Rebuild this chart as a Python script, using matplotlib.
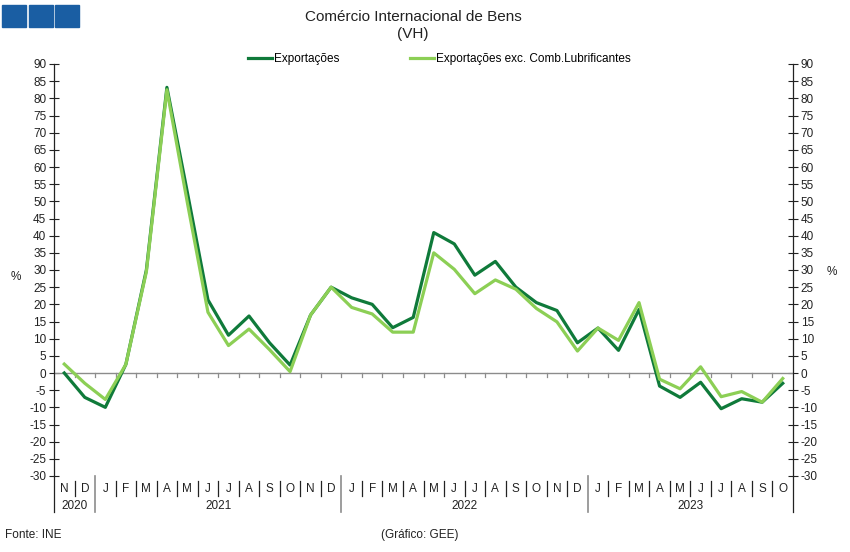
import matplotlib.pyplot as plt
from matplotlib.patches import Rectangle

plt.rcParams['font.family'] = ['Liberation Sans', 'DejaVu Sans']
plt.rcParams['axes.unicode_minus'] = False

# months Nov 2020 .. Oct 2023
months = ['N', 'D',
          'J', 'F', 'M', 'A', 'M', 'J', 'J', 'A', 'S', 'O', 'N', 'D',
          'J', 'F', 'M', 'A', 'M', 'J', 'J', 'A', 'S', 'O', 'N', 'D',
          'J', 'F', 'M', 'A', 'M', 'J', 'J', 'A', 'S', 'O']
years = ['2020', '2021', '2022', '2023']
year_counts = [2, 12, 12, 10]

exportacoes = [0.0, -7.1, -10.0, 2.5, 30.0, 83.2, 52.5, 21.3, 11.0, 16.6, 8.8, 2.3,
               16.9, 25.0, 21.9, 20.0, 13.2, 16.2, 40.9, 37.6, 28.5, 32.5, 25.0, 20.5,
               18.2, 8.8, 13.1, 6.6, 18.5, -3.8, -7.1, -2.7, -10.4, -7.5, -8.5, -3.0]
exp_sem_comb = [2.6, -3.0, -7.7, 2.5, 29.5, 82.5, 49.5, 17.7, 8.0, 12.8, 6.8, 0.4,
                16.9, 25.0, 19.1, 17.2, 11.9, 11.9, 35.0, 30.2, 23.1, 27.1, 24.4, 18.8,
                14.9, 6.4, 13.1, 9.5, 20.5, -1.8, -4.6, 1.8, -6.9, -5.4, -8.5, -1.6]

dark = '#0f7a3a'
light = '#8ccf55'
grey = '#8c8c8c'

W, H = 850, 552
fig = plt.figure(figsize=(8.5, 5.52), dpi=100)
ax = fig.add_axes([54 / W, 1 - 476 / H, (793 - 54) / W, (476 - 64) / H])

x = list(range(len(months)))
ax.plot(x, exportacoes, color=dark, lw=2.3, label='Exportações', zorder=3)
ax.plot(x, exp_sem_comb, color=light, lw=2.3,
        label='Exportações exc. Comb.Lubrificantes', zorder=3)

ax.set_xlim(-0.5, len(months) - 0.5)
ax.set_ylim(-30, 90)
ax.set_yticks(range(-30, 91, 5))
ax.tick_params(axis='y', direction='inout', length=7, width=0.8, labelsize=8.5,
               pad=2, right=True, labelright=True, colors='#222222')
ax.set_xticks([])
for s in ['top', 'bottom']:
    ax.spines[s].set_visible(False)
for s in ['left', 'right']:
    ax.spines[s].set_color('#222222')
    ax.spines[s].set_linewidth(0.9)

# zero line with small ticks between months
ax.axhline(0, color=grey, lw=1.0, zorder=2)
for i in range(len(months) - 1):
    ax.plot([i + 0.5, i + 0.5], [0, -1.2], color=grey, lw=0.9, zorder=2)

# category axis below the plot
trans = ax.get_xaxis_transform()
px = 1 / 412
month_len = 20 * px
year_len = 36 * px
for side in [-0.5, len(months) - 0.5]:
    ax.plot([side, side], [0, -year_len], color='#222222', lw=0.9,
            transform=trans, clip_on=False)
year_edges = []
acc = 0
for c in year_counts[:-1]:
    acc += c
    year_edges.append(acc - 0.5)
for i in range(len(months) - 1):
    b = i + 0.5
    if b in year_edges:
        ax.plot([b, b], [0, -year_len], color=grey, lw=1.2,
                transform=trans, clip_on=False)
    else:
        ax.plot([b, b], [-5 * px, -month_len], color='#222222', lw=0.9,
                transform=trans, clip_on=False)
for i, m in enumerate(months):
    ax.text(i, -13 * px, m, transform=trans, ha='center', va='center',
            fontsize=8.5, color='#222222')
start = 0
for yr, c in zip(years, year_counts):
    ax.text(start + (c - 1) / 2, -30 * px, yr, transform=trans, ha='center',
            va='center', fontsize=8.5, color='#222222')
    start += c

ax.legend(loc='center', bbox_to_anchor=(0.522, 1.012), ncol=2, frameon=False,
          handlelength=2.0, handletextpad=0.2, columnspacing=6.0, fontsize=8.5,
          borderaxespad=0)

fig.text(413 / W, 1 - 17 / H, 'Comércio Internacional de Bens', ha='center',
         va='center', fontsize=11, color='#222222')
fig.text(413 / W, 1 - 34 / H, '(VH)', ha='center', va='center', fontsize=11,
         color='#222222')
fig.text(16 / W, 1 - 277 / H, '%', ha='center', va='center', fontsize=8.5,
         color='#222222')
fig.text(832 / W, 1 - 272 / H, '%', ha='center', va='center', fontsize=8.5,
         color='#222222')
fig.text(5 / W, 1 - 535 / H, 'Fonte: INE', ha='left', va='center', fontsize=8.5,
         color='#222222')
fig.text(420 / W, 1 - 535 / H, '(Gráfico: GEE)', ha='center', va='center',
         fontsize=8.5, color='#222222')

# logo squares
for x0 in [2, 29, 55]:
    fig.patches.append(Rectangle((x0 / W, 1 - 27 / H), 24 / W, 22 / H,
                                 transform=fig.transFigure, color='#1a5ea3'))

fig.savefig('out.png', dpi=100)
